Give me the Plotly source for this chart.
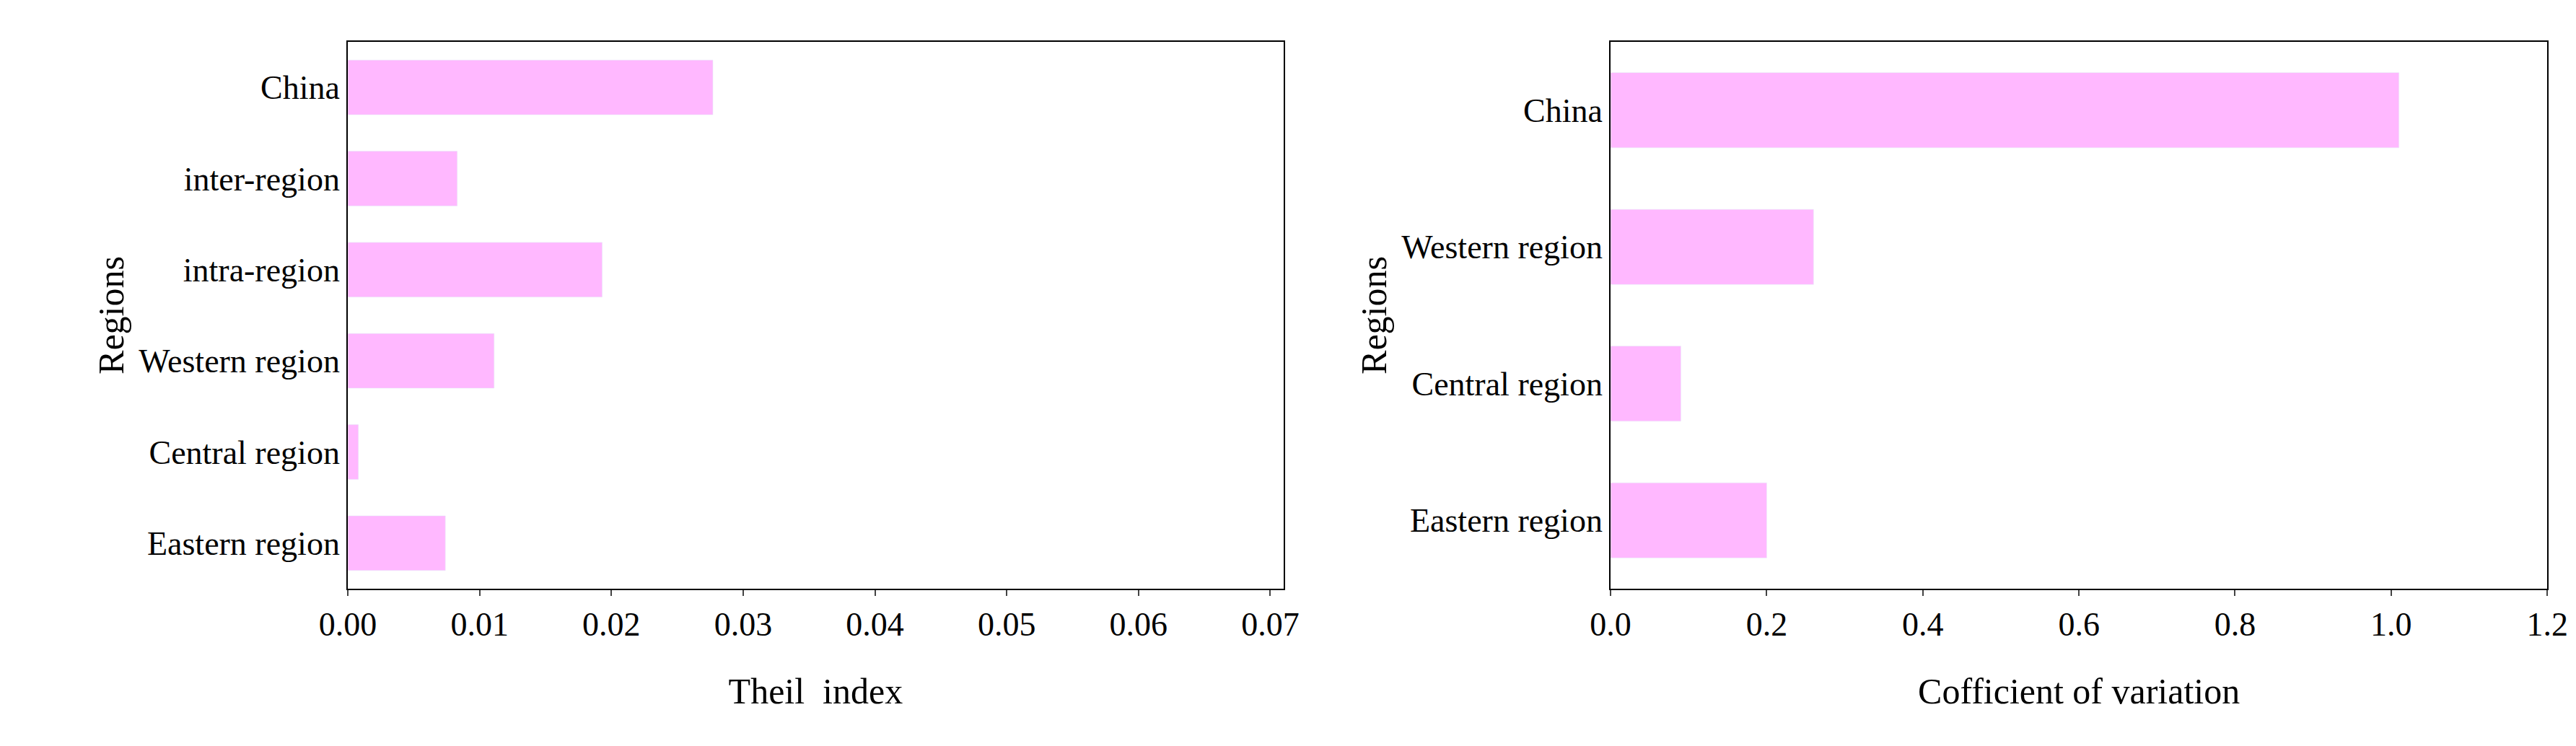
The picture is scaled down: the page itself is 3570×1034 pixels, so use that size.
import plotly.graph_objects as go
from plotly.subplots import make_subplots

theil_regions = ["Eastern region", "Central region", "Western region", "intra-region", "inter-region", "China"]
theil_values = [0.0074, 0.0008, 0.0111, 0.0193, 0.0083, 0.0277]
cv_regions = ["Eastern region", "Central region", "Western region", "China"]
cv_values = [0.20, 0.09, 0.26, 1.01]

color = "#FFB8FF"
font = "Liberation Serif"

fig = make_subplots(rows=1, cols=2)
fig.add_trace(go.Bar(x=theil_values, y=theil_regions, orientation="h", marker_color=color, width=0.6), 1, 1)
fig.add_trace(go.Bar(x=cv_values, y=cv_regions, orientation="h", marker_color=color, width=0.55), 1, 2)

fig.update_layout(
    width=3570, height=1034, showlegend=False, plot_bgcolor="white", paper_bgcolor="white",
    margin=dict(l=0, r=0, t=50, b=226, autoexpand=False),
    font=dict(family=font, size=46, color="black"),
    xaxis=dict(domain=[0.1328, 0.496]), xaxis2=dict(domain=[0.623, 0.9866]),
)
axstyle = dict(showline=True, linecolor="black", linewidth=2, mirror=True, showgrid=False,
               zeroline=False, automargin=False)
fig.update_xaxes(**axstyle, ticks="outside", ticklen=8, tickwidth=2)
fig.update_yaxes(**axstyle, ticks="", ticklabelstandoff=0)
fig.update_xaxes(range=[0, 0.071], dtick=0.01, tickformat=".2f", row=1, col=1,
                 title=dict(text="Theil  index", font=dict(size=50), standoff=50))
fig.update_xaxes(range=[0, 1.2], dtick=0.2, tickformat=".1f", row=1, col=2,
                 title=dict(text="Cofficient of variation", font=dict(size=50), standoff=50))
fig.update_yaxes(title=dict(text="Regions", font=dict(size=50), standoff=5), row=1, col=1)
fig.update_yaxes(title=dict(text="Regions", font=dict(size=50), standoff=5), row=1, col=2)
fig.write_html("out.html")
